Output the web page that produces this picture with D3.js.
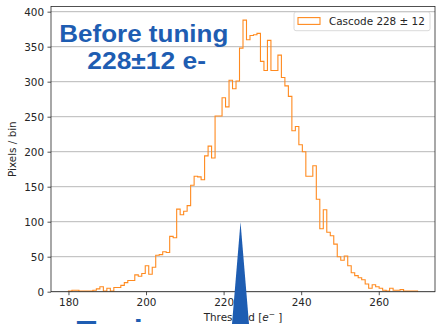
<!DOCTYPE html>
<html><head><meta charset="utf-8">
<script src="https://cdn.jsdelivr.net/npm/d3@7"></script>
<style>html,body{margin:0;padding:0;background:#fff;overflow:hidden}</style>
</head><body>
<script>
// ---- data ----
const binStart = 180;
const binWidth = 0.9;
const counts = [1,2,2,1,1,1,1,2,4,7,
  1,5,1,6,6,9,13,16,16,24,
  22,26,37,25,35,52,53,57,56,79,
  77,118,110,115,123,152,165,164,160,194,
  208,191,251,251,277,264,302,290,301,348,
  388,360,366,367,369,329,316,359,316,316,
  338,306,294,279,230,236,210,200,165,165,
  180,132,90,117,85,80,68,50,45,51,
  37,27,23,20,17,11,5,10,7,5,
  2,1,5,2,2,3,1,1,1,1];
const xTicks = [180,200,220,240,260];
const yTicks = [0,50,100,150,200,250,300,350,400];
const legendLabel = "Cascode 228 \u00b1 12";
const titleLines = ["Before tuning", "228\u00b112 e-"];
const bottomText = "Tuning";

const W = 436, H = 324;
const svg = d3.select("body").append("svg").attr("width", W).attr("height", H);
const L = 51, R = 435, T = 6.5, B = 291.7;
const x = d3.scaleLinear().domain([175.5, 274.5]).range([L, R]);
const y = d3.scaleLinear().domain([0, 407.4]).range([B, T]);
const font = "DejaVu Sans";
const txt = "#262626";

// gridlines
svg.append("g").selectAll("line").data(yTicks).join("line")
  .attr("x1", L).attr("x2", R)
  .attr("y1", d => y(d)).attr("y2", d => y(d))
  .attr("stroke", "#b0b0b0").attr("stroke-width", 0.9);

// histogram step outline
const pts = [[binStart, 0]];
counts.forEach((c, i) => {
  const x0 = binStart + i * binWidth, x1 = x0 + binWidth;
  pts.push([x0, c], [x1, c]);
});
pts.push([binStart + counts.length * binWidth, 0]);
svg.append("path")
  .attr("d", d3.line().x(d => x(d[0])).y(d => y(d[1]))(pts))
  .attr("fill", "none").attr("stroke", "#ff8a1f").attr("stroke-width", 1.1)
  .attr("stroke-linejoin", "miter");

// axes
const ax = svg.append("g").attr("transform", `translate(0,${B})`)
  .call(d3.axisBottom(x).tickValues(xTicks).tickSize(3.5).tickPadding(3.5).tickFormat(d3.format("d")));
const ay = svg.append("g").attr("transform", `translate(${L},0)`)
  .call(d3.axisLeft(y).tickValues(yTicks).tickSize(3.5).tickPadding(3.5).tickFormat(d3.format("d")));
[ax, ay].forEach(g => {
  g.select(".domain").remove();
  g.selectAll("line").attr("stroke", txt).attr("stroke-width", 0.8);
  g.selectAll("text").attr("font-family", font).attr("font-size", 10.4).attr("fill", txt);
});
// spines
svg.append("rect").attr("x", L).attr("y", T).attr("width", R - L).attr("height", B - T)
  .attr("fill", "none").attr("stroke", txt).attr("stroke-width", 0.8);

// axis labels
const xl = svg.append("text").attr("x", (L + R) / 2).attr("y", 320.5)
  .attr("text-anchor", "middle").attr("font-family", font).attr("font-size", 10.4).attr("fill", txt);
xl.append("tspan").text("Threshold [");
xl.append("tspan").attr("font-style", "italic").text("e");
xl.append("tspan").attr("dy", -4).attr("font-size", 7.5).text("\u2212");
xl.append("tspan").attr("dy", 4).text(" ]");
svg.append("text").attr("transform", `translate(16,${(T + B) / 2}) rotate(-90)`)
  .attr("text-anchor", "middle").attr("font-family", font).attr("font-size", 10.4).attr("fill", txt)
  .text("Pixels / bin");

// legend
svg.append("rect").attr("x", 294).attr("y", 12).attr("width", 136).attr("height", 18.7)
  .attr("rx", 2).attr("fill", "#fff").attr("fill-opacity", 0.8).attr("stroke", "#d0d0d0").attr("stroke-width", 0.8);
svg.append("rect").attr("x", 298).attr("y", 17.6).attr("width", 22).attr("height", 6.8)
  .attr("fill", "none").attr("stroke", "#ff8a1f").attr("stroke-width", 1.1);
svg.append("text").attr("x", 329).attr("y", 25).attr("font-family", font).attr("font-size", 10.4)
  .attr("fill", txt).text(legendLabel);

// overlay annotations
const blue = "#1e5db2";
svg.append("text").attr("x", 59.3).attr("y", 41.5).attr("font-family", "Liberation Sans, Arial, sans-serif")
  .attr("font-weight", "bold").attr("font-size", 24).attr("fill", blue)
  .attr("textLength", 169).attr("lengthAdjust", "spacingAndGlyphs").text(titleLines[0]);
svg.append("text").attr("x", 87.3).attr("y", 69.3).attr("font-family", "Liberation Sans, Arial, sans-serif")
  .attr("font-weight", "bold").attr("font-size", 24).attr("fill", blue)
  .attr("textLength", 118.7).attr("lengthAdjust", "spacingAndGlyphs").text(titleLines[1]);
svg.append("text").attr("transform", "translate(76.5,340.8) scale(1.085,1)")
  .attr("font-family", "Liberation Sans, Arial, sans-serif").attr("font-weight", "bold")
  .attr("font-size", 30).attr("fill", blue).text(bottomText);
svg.append("polygon").attr("points", "240.5,222 232,324 249,324").attr("fill", blue);
</script>
</body></html>
